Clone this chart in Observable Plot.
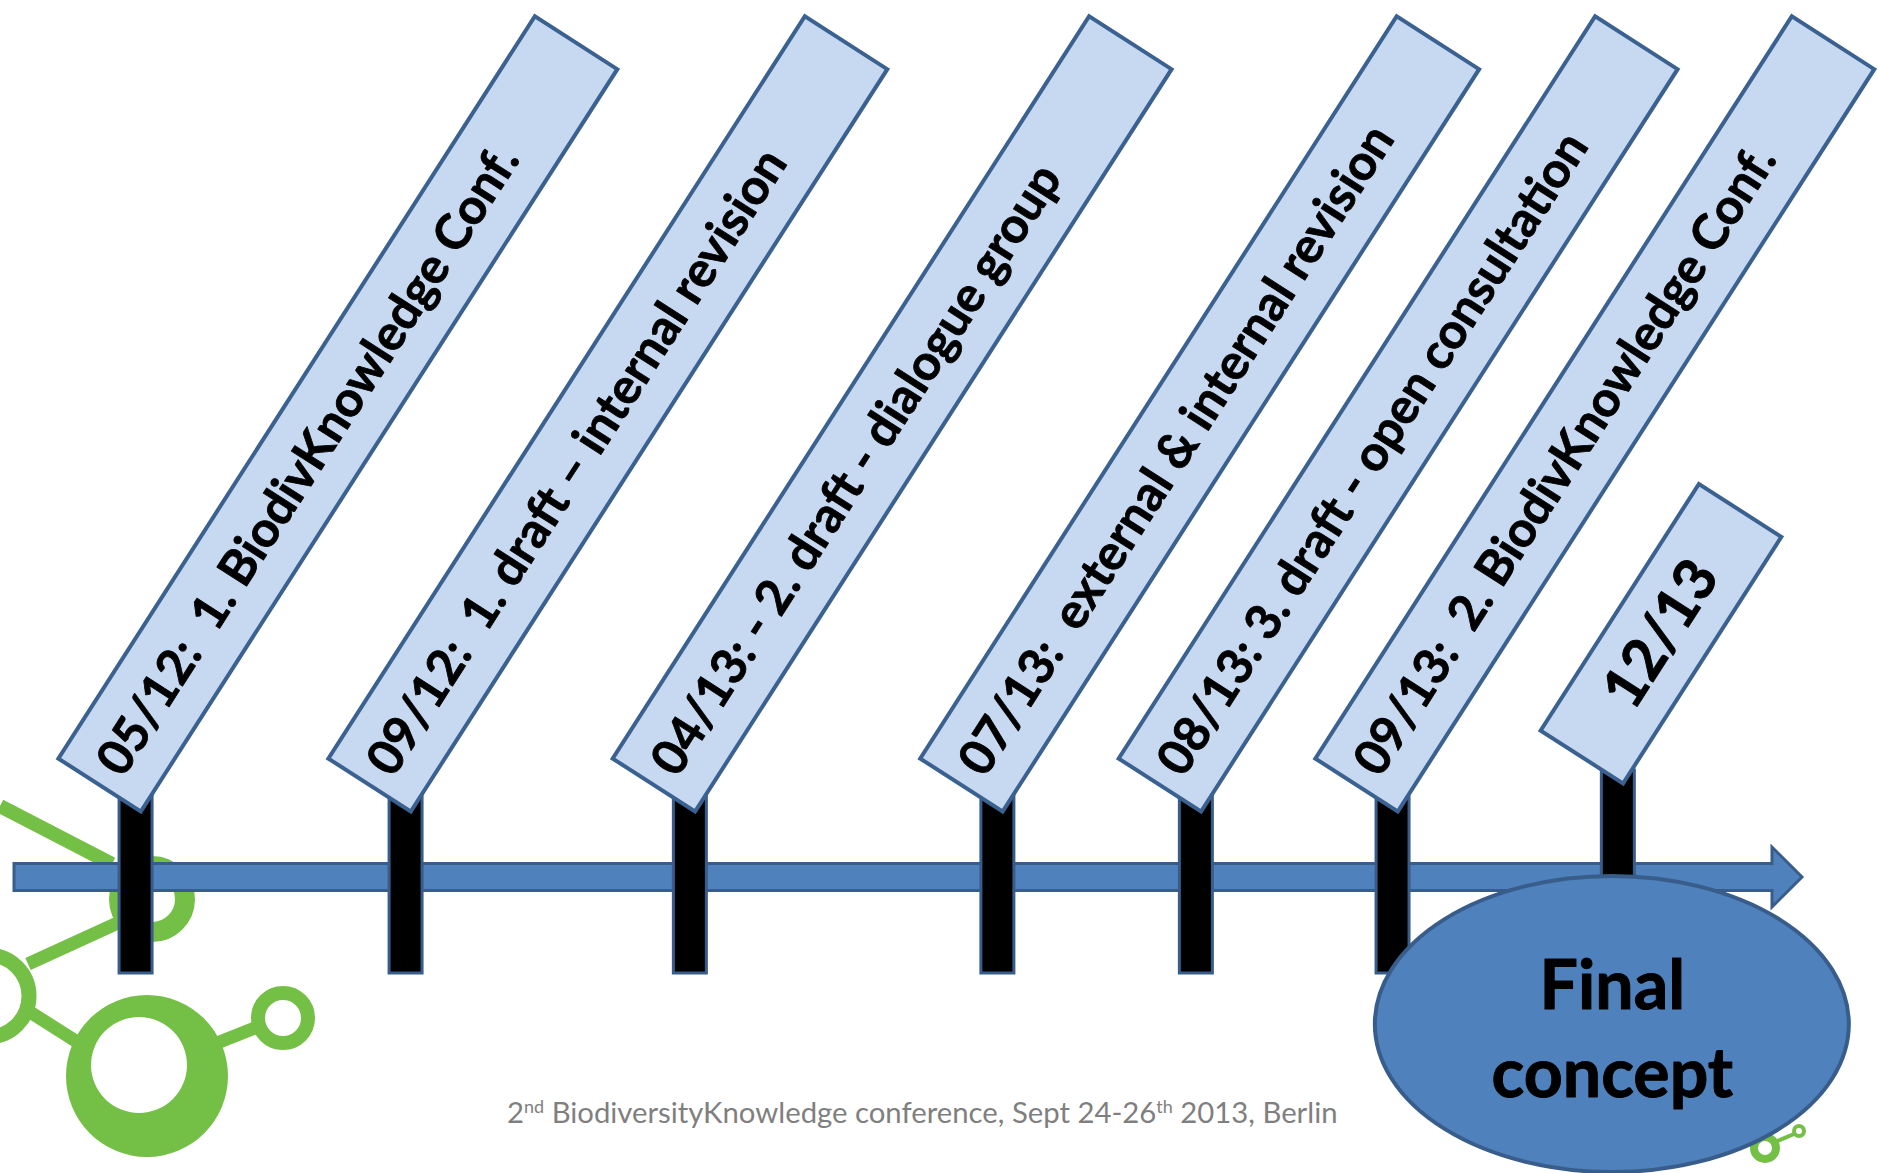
<!DOCTYPE html>
<html><head><meta charset="utf-8">
<script src="https://cdn.jsdelivr.net/npm/d3@7"></script>
<script src="https://cdn.jsdelivr.net/npm/@observablehq/plot@0.6"></script>
<style>
html,body{margin:0;padding:0;background:#fff;overflow:hidden;}
#stage{position:relative;width:1878px;height:1173px;overflow:hidden;}
#deco,#chart{position:absolute;left:0;top:0;}
#chart text{white-space:pre;}
</style></head><body>
<div id="stage">
<svg id="deco" width="1878" height="1173" xmlns="http://www.w3.org/2000/svg">
  <g stroke="#74BF45" fill="none" stroke-linecap="butt">
    <line x1="0" y1="806" x2="112" y2="864" stroke-width="14"/>
    <circle cx="152" cy="899" r="33" stroke-width="20"/>
    <line x1="28" y1="964" x2="122" y2="921" stroke-width="13"/>
    <circle cx="-12" cy="996" r="41" stroke-width="15"/>
    <line x1="30" y1="1012" x2="82" y2="1045" stroke-width="13"/>
    <line x1="212" y1="1045" x2="260" y2="1026" stroke-width="13"/>
    <circle cx="283" cy="1018" r="25" stroke-width="14"/>
    <circle cx="1765" cy="1148" r="11" stroke-width="8"/>
    <line x1="1775" y1="1142" x2="1794" y2="1134" stroke-width="4"/>
    <circle cx="1799" cy="1131" r="5" stroke-width="4"/>
  </g>
  <path fill="#74BF45" fill-rule="evenodd" d="M66,1076 a81,81 0 1,0 162,0 a81,81 0 1,0 -162,0 Z M91,1065 a48,48 0 1,0 96,0 a48,48 0 1,0 -96,0 Z"/>
  <text x="507" y="1123" font-family="Lato, 'Open Sans', sans-serif" font-size="29.3" fill="#7f7f7f">2<tspan dy="-10" font-size="18">nd</tspan><tspan dy="10"> BiodiversityKnowledge conference, Sept 24-26</tspan><tspan dy="-10" font-size="18">th</tspan><tspan dy="10"> 2013, Berlin</tspan></text>
</svg>
<div id="chart"></div>
</div>
<script>
// Milestones of the timeline
const dates = ["05/12", "09/12", "04/13", "07/13", "08/13", "09/13", "12/13"];
const events = ["1. BiodivKnowledge Conf.", "1. draft – internal revision", "- 2. draft - dialogue group",
                "external & internal revision", "3. draft - open consultation", "2. BiodivKnowledge Conf.", ""];
const separators = [":  ", ":  ", ": ", ":  ", ": ", ":  ", ""];
// position of each milestone along the timeline arrow (0 = start, 100 = arrow tip)
const timelinePos = [6.8, 21.9, 37.8, 55.0, 66.1, 77.1, 89.7];
const kinds = ["step", "step", "step", "step", "step", "step", "final"];
const outcome = "Final\nconcept";

const milestones = dates.map((d, i) => ({
  date: d, label: d + separators[i] + events[i], pos: timelinePos[i], kind: kinds[i]
}));
const steps = milestones.filter(d => d.kind === "step");
const finals = milestones.filter(d => d.kind === "final");

const NS = "http://www.w3.org/2000/svg";
const ANGLE = -57.3;
const rad = ANGLE * Math.PI / 180;
const ux = Math.cos(rad), uy = Math.sin(rad);
const BOX_DX = -36, STEP_BASE = 785, FINAL_BASE = 757;
const STEP_LEN = 882, FINAL_LEN = 293, BOX_W = 98;

function el(tag, attrs) {
  const e = document.createElementNS(NS, tag);
  for (const k in attrs) e.setAttribute(k, attrs[k]);
  return e;
}

const arrowMark = (index, {x}) => {
  const x0 = x(0), x1 = x(100);
  const d = `M${x0},863.5 H${x1 - 30} V847 L${x1},877 L${x1 - 30},907 V890.5 H${x0} Z`;
  return el("path", {d, fill: "#4F81BD", stroke: "#385D8A", "stroke-width": 3});
};

const boxMark = (index, {x}) => {
  const g = el("g", {});
  for (const m of milestones) {
    const fin = m.kind === "final";
    const bx = x(m.pos) + BOX_DX, by = fin ? FINAL_BASE : STEP_BASE;
    g.appendChild(el("rect", {
      x: 0, y: -BOX_W / 2, width: fin ? FINAL_LEN : STEP_LEN, height: BOX_W,
      transform: `translate(${bx},${by}) rotate(${ANGLE})`,
      fill: "#C6D9F1", stroke: "#3B6190", "stroke-width": 4
    }));
  }
  return g;
};

const ellipseMark = (index, {x}) => {
  const m = finals[0];
  return el("ellipse", {cx: x(m.pos) - 6, cy: 1024, rx: 237, ry: 148,
    fill: "#4F81BD", stroke: "#385D8A", "stroke-width": 4});
};

const INSET = 18;
const chart = Plot.plot({
  width: 1878, height: 1173, margin: 0,
  x: {domain: [0, 100], range: [14, 1802], axis: null},
  style: {background: "transparent", overflow: "visible"},
  marks: [
    arrowMark,
    Plot.rect(milestones, {x1: "pos", x2: "pos", insetLeft: -16.5, insetRight: -16.5,
      insetTop: 770, insetBottom: 200, fill: "black", stroke: "#385D8A", strokeWidth: 3}),
    boxMark,
    Plot.text(steps, {x: "pos", text: "label", frameAnchor: "top",
      dx: BOX_DX + INSET * ux, dy: STEP_BASE + INSET * uy, rotate: ANGLE,
      textAnchor: "start", lineAnchor: "middle", fontSize: 49, fontWeight: "bold",
      fontFamily: "Lato", fill: "black", stroke: "black", strokeWidth: 0.8}),
    Plot.text(finals, {x: "pos", text: "label", frameAnchor: "top",
      dx: BOX_DX + FINAL_LEN / 2 * ux, dy: FINAL_BASE + FINAL_LEN / 2 * uy, rotate: ANGLE,
      textAnchor: "middle", lineAnchor: "middle", fontSize: 58, fontWeight: "bold",
      fontFamily: "Lato", fill: "black", stroke: "black", strokeWidth: 0.9}),
    ellipseMark,
    Plot.text(finals, {x: "pos", text: () => outcome, frameAnchor: "top", dx: -6, dy: 1024.5,
      textAnchor: "middle", lineAnchor: "middle", lineHeight: 88 / 68, fontSize: 68,
      fontWeight: "bold", fontFamily: "Lato", fill: "black", stroke: "black", strokeWidth: 1})
  ]
});
document.getElementById("chart").appendChild(chart);
</script>
</body></html>
